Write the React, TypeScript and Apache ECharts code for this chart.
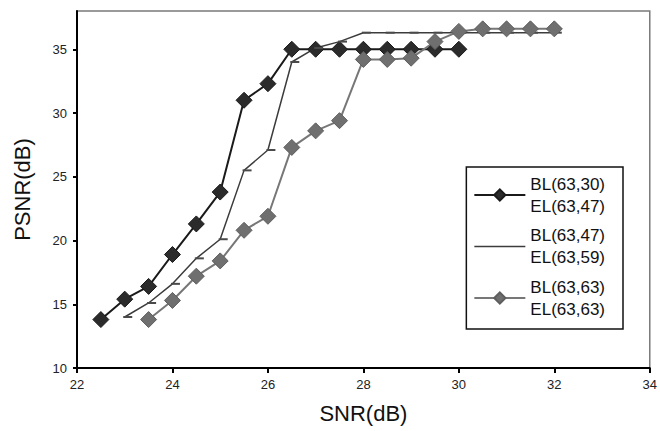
import React, { useEffect, useRef } from "react";
import * as echarts from "echarts";

const snr1 = [22.5, 23, 23.5, 24, 24.5, 25, 25.5, 26, 26.5, 27, 27.5, 28, 28.5, 29, 29.5, 30];
const psnr1 = [13.8, 15.4, 16.4, 18.9, 21.3, 23.8, 31.0, 32.3, 35.0, 35.0, 35.0, 35.0, 35.0, 35.0, 35.0, 35.0];

const snr2 = [23, 23.5, 24, 24.5, 25, 25.5, 26, 26.5, 27, 27.5, 28, 28.5, 29, 29.5, 30, 30.5, 31, 31.5, 32];
const psnr2 = [14.0, 15.1, 16.6, 18.6, 20.1, 25.5, 27.1, 34.0, 35.1, 35.6, 36.3, 36.3, 36.3, 36.3, 36.3, 36.3, 36.3, 36.3, 36.3];

const snr3 = [23.5, 24, 24.5, 25, 25.5, 26, 26.5, 27, 27.5, 28, 28.5, 29, 29.5, 30, 30.5, 31, 31.5, 32];
const psnr3 = [13.8, 15.3, 17.2, 18.4, 20.8, 21.9, 27.3, 28.6, 29.4, 34.2, 34.2, 34.3, 35.6, 36.4, 36.6, 36.6, 36.6, 36.6];

const seriesNames = ["BL(63,30)\nEL(63,47)", "BL(63,47)\nEL(63,59)", "BL(63,63)\nEL(63,63)"];

const zip = (xs: number[], ys: number[]) => xs.map((x, i) => [x, ys[i]]);

export default function App() {
  const ref = useRef<HTMLDivElement>(null);
  useEffect(() => {
    if (!ref.current) return;
    const chart = echarts.init(ref.current, undefined, { renderer: "svg" });
    const font = "Liberation Sans, Arial, sans-serif";
    chart.setOption({
      animation: false,
      backgroundColor: "#ffffff",
      textStyle: { fontFamily: font },
      grid: {
        left: 77,
        right: 7,
        top: 11,
        bottom: 63,
        show: true,
        borderColor: "#7a7a7a",
        borderWidth: 1.5,
      },
      legend: {
        right: 37,
        top: 167,
        orient: "vertical",
        itemWidth: 51,
        itemHeight: 14,
        itemGap: -14.5,
        padding: [-5, 18, -2, 7],
        borderColor: "#111",
        borderWidth: 1.5,
        backgroundColor: "#fff",
        textStyle: {
          fontSize: 17,
          lineHeight: 22,
          color: "#111",
          fontFamily: font,
          padding: [22, 0, 0, 0],
        },
        data: [
          { name: seriesNames[0] },
          { name: seriesNames[1], icon: "path://M0,0h51v1.5h-51z", itemStyle: { color: "#3c3c3c" } },
          { name: seriesNames[2] },
        ],
      },
      xAxis: {
        type: "value",
        min: 22,
        max: 34,
        interval: 2,
        name: "SNR(dB)",
        nameLocation: "middle",
        nameGap: 34,
        nameTextStyle: { fontSize: 22, color: "#111", fontFamily: font },
        axisLine: { lineStyle: { color: "#000", width: 2 } },
        axisTick: { show: true, length: 5, lineStyle: { color: "#000", width: 2 } },
        axisLabel: { fontSize: 13, color: "#222", margin: 10 },
        splitLine: { show: false },
      },
      yAxis: {
        type: "value",
        min: 10,
        max: 38,
        interval: 5,
        name: "PSNR(dB)",
        nameLocation: "middle",
        nameGap: 44,
        nameTextStyle: { fontSize: 22, color: "#111", fontFamily: font },
        axisLine: { show: true, lineStyle: { color: "#000", width: 2 } },
        axisTick: { show: true, length: 4, lineStyle: { color: "#000", width: 2 } },
        axisLabel: { fontSize: 13, color: "#222", margin: 10, showMaxLabel: false },
        splitLine: { show: false },
      },
      series: [
        {
          name: seriesNames[0],
          type: "line",
          data: zip(snr1, psnr1),
          symbol: "diamond",
          symbolSize: 16,
          itemStyle: { color: "#2b2b2b", borderColor: "#1a1a1a", borderWidth: 1 },
          lineStyle: { color: "#1a1a1a", width: 2 },
        },
        {
          name: seriesNames[1],
          type: "line",
          data: zip(snr2, psnr2),
          symbol: "rect",
          symbolSize: [9, 2],
          symbolOffset: [3, 0],
          itemStyle: { color: "#4a4a4a" },
          lineStyle: { color: "#3c3c3c", width: 1.5 },
        },
        {
          name: seriesNames[2],
          type: "line",
          data: zip(snr3, psnr3),
          symbol: "diamond",
          symbolSize: 16,
          itemStyle: { color: "#6f6f6f", borderColor: "#5e5e5e", borderWidth: 1 },
          lineStyle: { color: "#777777", width: 2 },
        },
      ],
    });
    return () => chart.dispose();
  }, []);
  return <div ref={ref} style={{ width: 660, height: 431, position: "absolute", left: 0, top: 0 }} />;
}
